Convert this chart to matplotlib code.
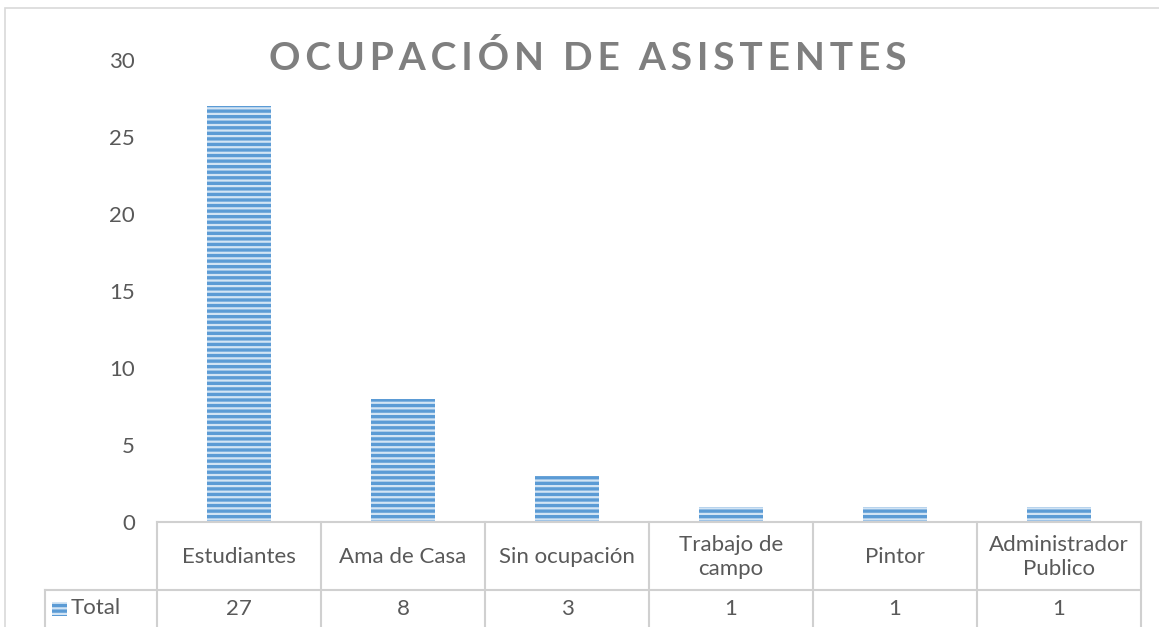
import matplotlib
matplotlib.use("Agg")
import matplotlib.pyplot as plt
from matplotlib.patches import Rectangle
from matplotlib.lines import Line2D

# data
categorias = ["Estudiantes", "Ama de Casa", "Sin ocupación", "Trabajo de\ncampo",
              "Pintor", "Administrador\nPublico"]
total = [27, 8, 3, 1, 1, 1]
y_ticks = [0, 5, 10, 15, 20, 25, 30]
titulo = "OCUPACIÓN DE ASISTENTES"

W, H = 1159, 627
fig = plt.figure(figsize=(W / 100, H / 100), dpi=100)
plt.rcParams['font.family'] = ['Lato', 'DejaVu Sans']
plt.rcParams['hatch.linewidth'] = 1.6

def fx(px):
    return px / W

def fy(py):
    return 1 - py / H

txt = "#595959"
fs = 16

# plot area
left, right, top, bottom = 157, 1141, 60, 522
ax = fig.add_axes([fx(left), fy(bottom), fx(right - left), (bottom - top) / H])

blue = "#5b9bd5"
x = list(range(len(categorias)))
ax.bar(x, total, width=0.39, color=blue, edgecolor="#d2e4f4", linewidth=0,
       hatch="---")
ax.set_xlim(-0.5, len(categorias) - 0.5)
ax.set_ylim(0, 30)
ax.set_yticks(y_ticks)
ax.set_yticklabels([str(v) for v in y_ticks], fontsize=fs, color=txt)
ax.tick_params(axis="y", length=0, pad=16)
ax.set_xticks([])
for s in ax.spines.values():
    s.set_visible(False)

# title (letter-spaced)
spaced = "  ".join("\u2009".join(w) for w in titulo.split(" "))
fig.text(fx(588), fy(58), spaced, ha="center", va="center", fontsize=28,
         fontweight="bold", color="#7f7f7f")

# chart border
fig.add_artist(Rectangle((fx(5), fy(700)), fx(1170), (700 - 8) / H,
                         transform=fig.transFigure, fill=False,
                         edgecolor="#d9d9d9", linewidth=1.2))

# data table
grid = "#d0d0d0"
row_split = 590
fig.add_artist(Line2D([fx(left), fx(right)], [fy(bottom), fy(bottom)],
                      transform=fig.transFigure, color=grid, lw=1.5))
fig.add_artist(Line2D([fx(45), fx(right)], [fy(row_split), fy(row_split)],
                      transform=fig.transFigure, color=grid, lw=1.5))
fig.add_artist(Line2D([fx(45), fx(45)], [fy(row_split), fy(H)],
                      transform=fig.transFigure, color=grid, lw=1.5))
cw = (right - left) / len(categorias)
for i in range(len(categorias) + 1):
    xp = left + i * cw
    fig.add_artist(Line2D([fx(xp), fx(xp)], [fy(bottom), fy(H)],
                          transform=fig.transFigure, color=grid, lw=1.5))
for i, (c, v) in enumerate(zip(categorias, total)):
    xc = left + (i + 0.5) * cw
    fig.text(fx(xc), fy(557), c, ha="center", va="center", fontsize=fs,
             color=txt, linespacing=1.2)
    fig.text(fx(xc), fy(609), str(v), ha="center", va="center", fontsize=fs,
             color=txt)

# legend key
fig.add_artist(Rectangle((fx(52), fy(616)), fx(15), 14 / H, transform=fig.transFigure,
                         facecolor=blue, edgecolor="#d2e4f4", linewidth=0, hatch="---"))
fig.text(fx(71), fy(608), "Total", ha="left", va="center", fontsize=fs, color=txt)

fig.savefig("out.png", dpi=100)
